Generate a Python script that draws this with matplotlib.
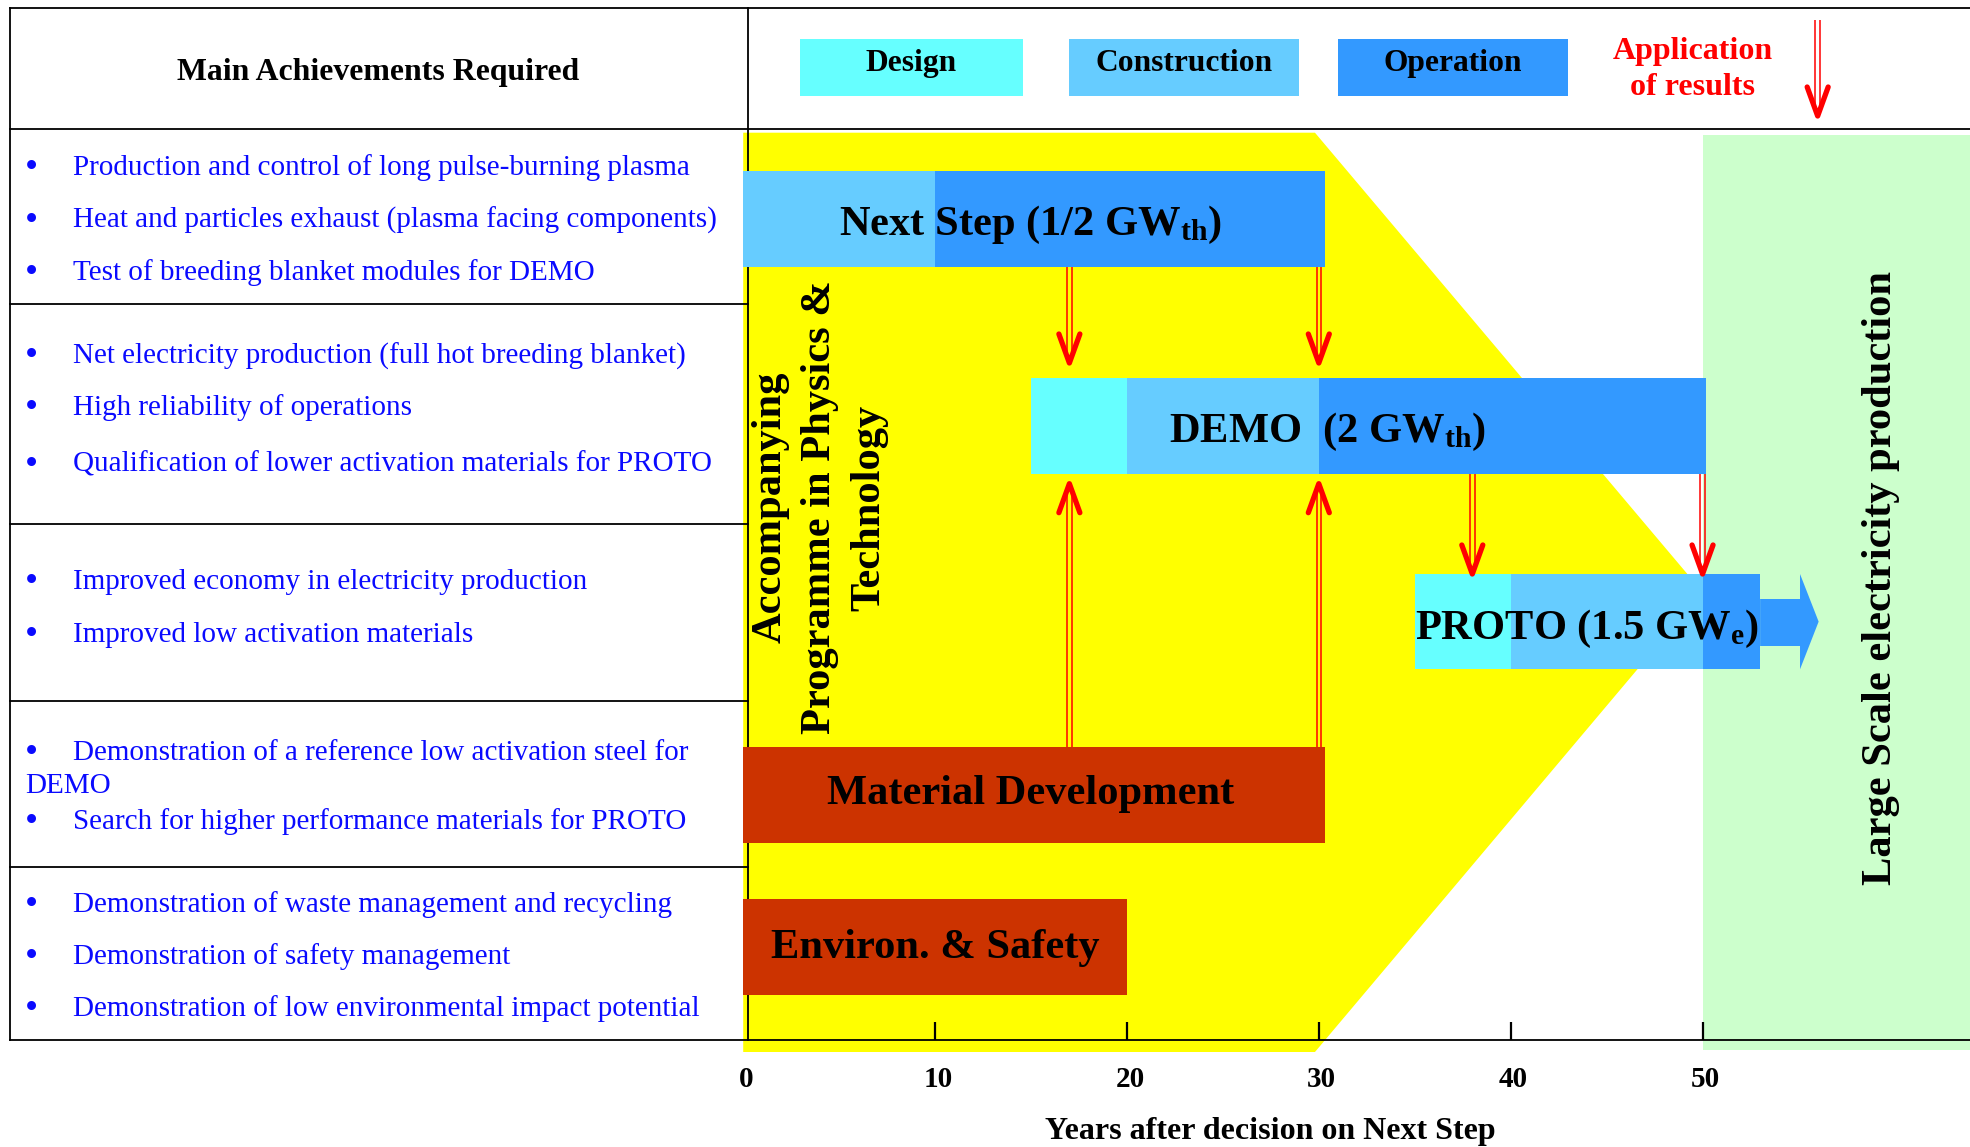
import matplotlib
matplotlib.use("Agg")
import matplotlib.pyplot as plt
from matplotlib.patches import Rectangle, Polygon

plt.rcParams['font.family'] = ['Liberation Serif', 'DejaVu Serif']
plt.rcParams['mathtext.fontset'] = 'custom'
plt.rcParams['mathtext.rm'] = 'Liberation Serif'
plt.rcParams['mathtext.bf'] = 'Liberation Serif:bold'
plt.rcParams['mathtext.it'] = 'Liberation Serif:italic'
plt.rcParams['mathtext.default'] = 'bf'

# ---------------- data ----------------
header_label = "Main Achievements Required"
achievements = [
    ["Production and control of long pulse-burning plasma",
     "Heat and particles exhaust (plasma facing components)",
     "Test of breeding blanket modules for DEMO"],
    ["Net electricity production (full hot breeding blanket)",
     "High reliability of operations",
     "Qualification of lower activation materials for PROTO"],
    ["Improved economy in electricity production",
     "Improved low activation materials"],
    ["Demonstration of a reference low activation steel for\nDEMO",
     "Search for higher performance materials for PROTO"],
    ["Demonstration of waste management and recycling",
     "Demonstration of safety management",
     "Demonstration of low environmental impact potential"],
]
phase_names = ["Design", "Construction", "Operation"]
phase_colors = ["#66FFFF", "#66CCFF", "#3399FF"]
application_label = ["Application", "of results"]

machines = ["Next Step (1/2 GW$_{th}$)", "DEMO  (2 GW$_{th}$)", "PROTO (1.5 GW$_{e}$)"]
design_start = [None, 15, 35]
construction_start = [0, 20, 40]
operation_start = [10, 30, 50]
operation_end = [30.3, 50.2, 53]

programmes = ["Material Development", "Environ. & Safety"]
programme_start = [0, 0]
programme_end = [30.3, 20]
programme_color = "#CC3300"

accompanying_label = "Accompanying\nProgramme in Physics &\nTechnology"
accompanying_years = [0, 29.8, 50]
large_scale_label = "Large Scale electricity production"
large_scale_start = 50

next_to_demo_years = [17, 30]
materials_to_demo_years = [17, 30]
demo_to_proto_years = [38, 50]
application_year = 56

year_ticks = [0, 10, 20, 30, 40, 50]
x_label = "Years after decision on Next Step"

# ---------------- layout ----------------
W, H = 1970, 1147
X0_PX = 743.2
PX_PER_YEAR = 19.187
BLUE = "#0a0aff"
RED = "#ff0000"
FS_BLUE = 21.0

fig = plt.figure(figsize=(W / 100, H / 100), dpi=100)
fig.patch.set_facecolor("white")
ax_px = fig.add_axes([0, 0, 1, 1])
ax_px.set_xlim(0, W)
ax_px.set_ylim(H, 0)
ax_px.axis("off")
ax = fig.add_axes([0, 0, 1, 1])
xmin_y = -X0_PX / PX_PER_YEAR
xmax_y = (W - X0_PX) / PX_PER_YEAR
ax.set_xlim(xmin_y, xmax_y)
ax.set_ylim(H, 0)
ax.axis("off")
P = ax_px.transData

# background regions
a0, a1, apex = accompanying_years
ax.add_patch(Polygon([(a0, 132.7), (a1, 132.7), (apex, 592), (a1, 1052), (a0, 1052)],
                     closed=True, facecolor="#FFFF00", edgecolor="none", zorder=1))
ax.add_patch(Rectangle((large_scale_start, 135), xmax_y - large_scale_start, 915,
                       facecolor="#CCFFCC", edgecolor="none", zorder=1))

# table lines
LW = 1.3
ax.plot([10, W], [7.5, 7.5], color="black", lw=LW, transform=P, zorder=2, clip_on=False)
ax.plot([10, W], [128.7, 128.7], color="black", lw=LW, transform=P, zorder=2, clip_on=False)
ax.plot([10, W], [1040, 1040], color="black", lw=LW, transform=P, zorder=5, clip_on=False)
ax.plot([10, 10], [7.5, 1040], color="black", lw=LW, transform=P, zorder=2, clip_on=False)
ax.plot([747.5, 747.5], [7.5, 1040], color="black", lw=LW, transform=P, zorder=2, clip_on=False)
for ysep in [304, 524, 700.7, 867]:
    ax.plot([10, 747.5], [ysep, ysep], color="black", lw=LW, transform=P, zorder=2)

# ticks
ax.vlines(year_ticks[1:], 1022, 1040, color="black", lw=1.6, zorder=5)
lab_off = 3 / PX_PER_YEAR
for t in year_ticks:
    ax.text(t + lab_off, 1087, str(t), ha="center", va="baseline", fontsize=21,
            fontweight="bold", zorder=6)
ax.text(27.45, 1139, x_label, ha="center", va="baseline", fontsize=23, fontweight="bold", zorder=6)

# header
ax.text(378, 80, header_label, transform=P, ha="center", va="baseline",
        fontsize=22.9, fontweight="bold", zorder=6)
legend_boxes = [(799.6, 1023), (1068.7, 1299), (1337.7, 1568)]
for (lx0, lx1), name, col in zip(legend_boxes, phase_names, phase_colors):
    ax.add_patch(Rectangle((lx0, 39), lx1 - lx0, 56.7, transform=P, facecolor=col,
                           edgecolor="none", zorder=3))
    ax.text((lx0 + lx1) / 2, 70.7, name, transform=P, ha="center", va="baseline",
            fontsize=22.7, fontweight="bold", zorder=6)
for lab, yb in zip(application_label, [59.3, 95]):
    ax.text(1693, yb, lab, transform=P, ha="center", va="baseline", fontsize=23,
            fontweight="bold", color=RED, zorder=6)

# achievements text
achievement_baselines = [[175, 227.5, 280], [363.3, 415, 471.7], [589.3, 641.7],
                         [760, 793.3, 829], [912.3, 964.3, 1016]]
for items, baselines in zip(achievements, achievement_baselines):
    k = 0
    for item in items:
        for j, line in enumerate(item.split("\n")):
            yb = baselines[k]
            if j == 0:
                ax.text(31, yb + 3, "\u2022", transform=P, ha="center", va="baseline",
                        fontsize=27, color=BLUE, zorder=6)
                ax.text(72.7, yb, line, transform=P, ha="left", va="baseline",
                        fontsize=FS_BLUE, color=BLUE, zorder=6)
            else:
                ax.text(25, yb, line, transform=P, ha="left", va="baseline",
                        fontsize=FS_BLUE, color=BLUE, zorder=6)
            k += 1

# machine bars
machine_rows = [(171, 266.7), (378, 473.7), (574, 669.3)]
machine_label_pos = [(15, 235), (30.47, 441.7), (44, 639.3)]
for i, (top, bot) in enumerate(machine_rows):
    yc, h = (top + bot) / 2, bot - top
    if design_start[i] is not None:
        ax.barh(yc, construction_start[i] - design_start[i], height=h, left=design_start[i],
                color=phase_colors[0], zorder=3)
    ax.barh(yc, operation_start[i] - construction_start[i], height=h, left=construction_start[i],
            color=phase_colors[1], zorder=3)
    ax.barh(yc, operation_end[i] - operation_start[i], height=h, left=operation_start[i],
            color=phase_colors[2], zorder=3)
    lx, ly = machine_label_pos[i]
    ax.text(lx, ly, machines[i], ha="center", va="baseline", fontsize=30.6,
            fontweight="bold", zorder=7)

# PROTO continuing arrow
pe = operation_end[2]
ptop, pbot = machine_rows[2]
shaft_end = pe + 2.08
tip = pe + 3.05
ax.add_patch(Polygon([(pe, 599), (shaft_end, 599), (shaft_end, ptop), (tip, (ptop + pbot) / 2),
                      (shaft_end, pbot), (shaft_end, 646), (pe, 646)],
                     closed=True, facecolor=phase_colors[2], edgecolor="none", zorder=3))

# programme bars
programme_rows = [(747, 842.7), (899, 995)]
programme_label_pos = [(15, 804), (10, 957.7)]
for i, (top, bot) in enumerate(programme_rows):
    ax.barh((top + bot) / 2, programme_end[i] - programme_start[i], height=bot - top,
            left=programme_start[i], color=programme_color, zorder=3)
    lx, ly = programme_label_pos[i]
    ax.text(lx, ly, programmes[i], ha="center", va="baseline", fontsize=30.6,
            fontweight="bold", zorder=7)

# accompanying programme + large scale labels
ax.text(4.0, 507.6, accompanying_label, rotation=90, ha="center", va="center",
        multialignment="center", fontsize=30.6, fontweight="bold", linespacing=1.38, zorder=7)
ax.text(59.3, 578, large_scale_label, rotation=90, ha="center", va="center",
        fontsize=30.6, fontweight="bold", zorder=7)


# red arrows
def red_arrow(xr, y0, ytip):
    d = 1 if ytip > y0 else -1
    g = 2.2 / PX_PER_YEAR
    for s in (-g, g):
        ax.plot([xr + s, xr + s], [y0, ytip - d * 6], color=RED, lw=1.1,
                solid_capstyle="butt", zorder=8)
    hw = 10.5 / PX_PER_YEAR
    hl = 31
    ax.plot([xr - hw, xr, xr + hw], [ytip - d * hl, ytip - d * 2, ytip - d * hl], color=RED,
            lw=3.8, solid_capstyle="round", solid_joinstyle="round", zorder=8)


for xr in next_to_demo_years:
    red_arrow(xr, machine_rows[0][1], 365)
for xr in materials_to_demo_years:
    red_arrow(xr, programme_rows[0][0], 481.7)
for xr in demo_to_proto_years:
    red_arrow(xr, machine_rows[1][1], 576)
red_arrow(application_year, 20, 118)

fig.savefig("out.png", dpi=100)
